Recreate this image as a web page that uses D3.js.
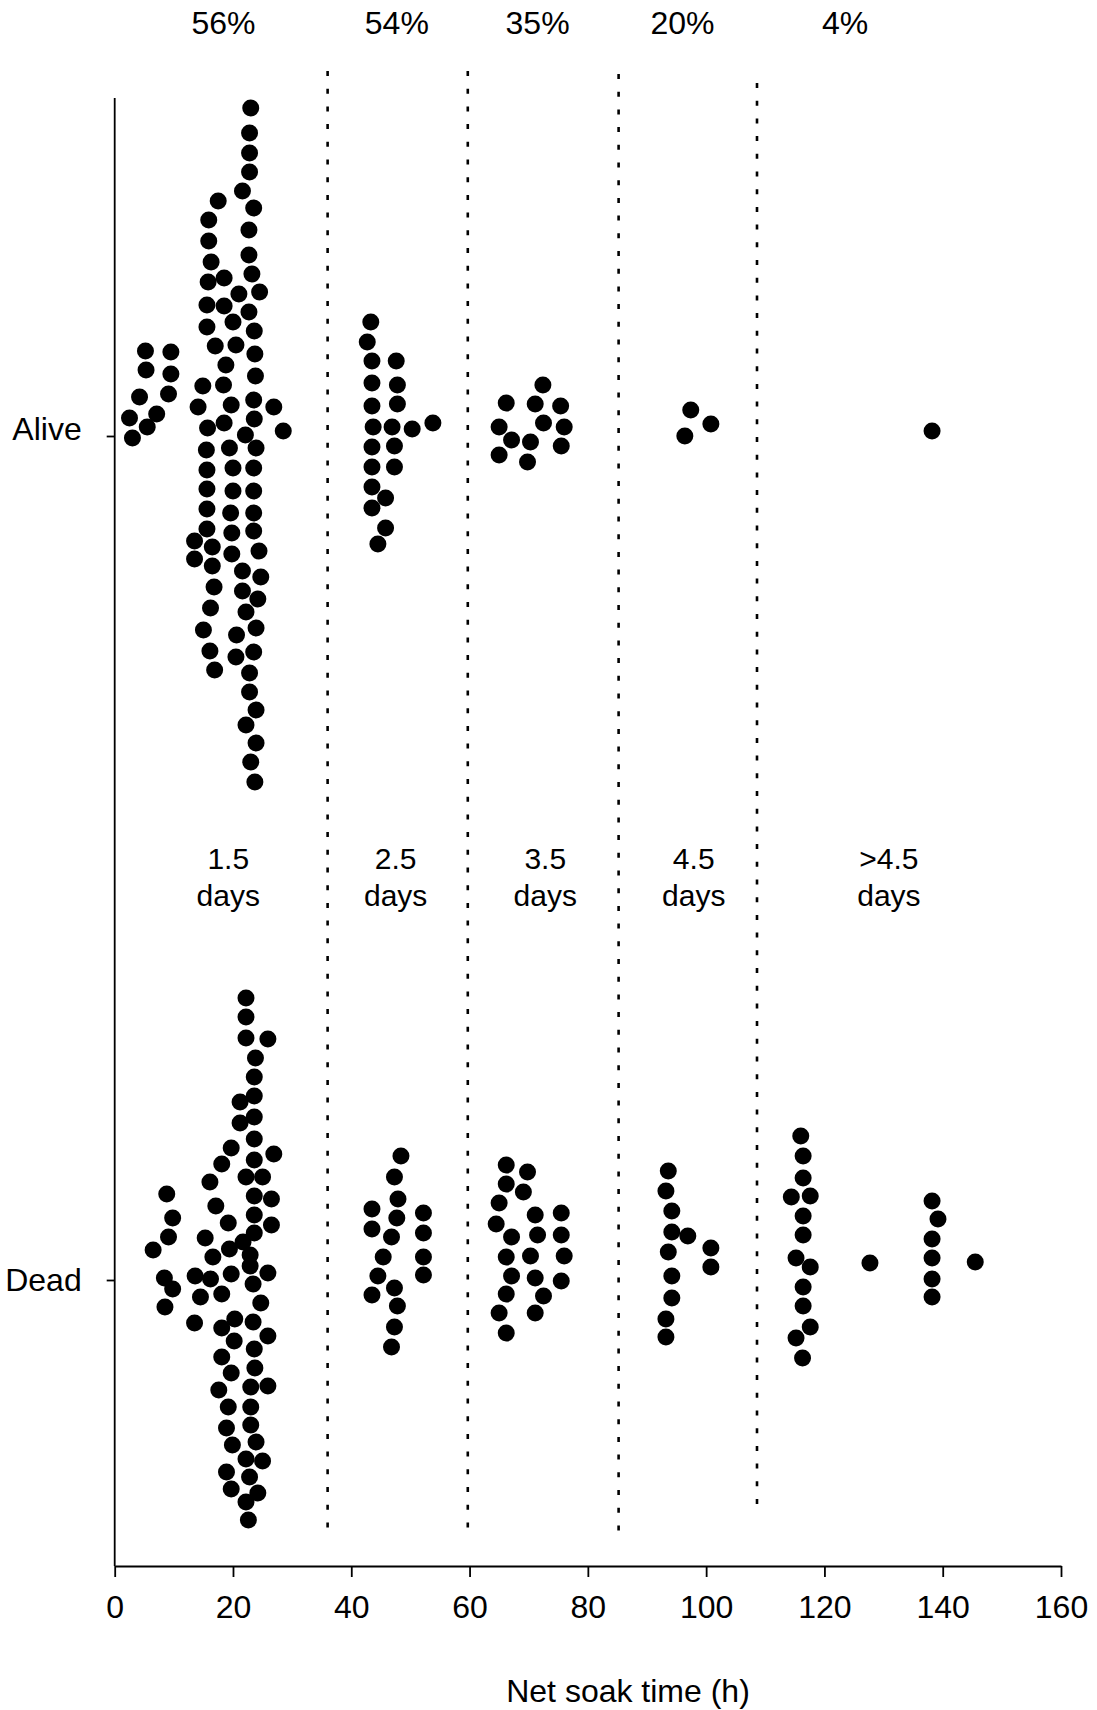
<!DOCTYPE html>
<html>
<head>
<meta charset="utf-8">
<script src="https://cdn.jsdelivr.net/npm/d3@7"></script>
<style>
  body { margin: 0; background: #fff; }
  text { font-family: "Liberation Sans", Arial, sans-serif; fill: #000; }
</style>
</head>
<body>
<script>
// categories on the vertical axis
const categories = ['Alive', 'Dead'];

// each dot: [net soak time (h), vertical spread within its row]
const aliveDots = [
  [23.0, 32.8], [22.8, 30.3], [22.8, 28.3], [22.8, 26.4], [21.6, 24.5], [17.5, 23.5],
  [23.5, 22.8], [15.9, 21.6], [22.7, 20.6], [15.9, 19.5], [22.7, 18.1], [16.3, 17.4],
  [18.5, 15.8], [23.2, 16.2], [15.8, 15.4], [21.0, 14.2], [24.5, 14.4], [15.6, 13.1],
  [18.5, 13.0], [22.7, 12.4], [20.0, 11.4], [15.6, 10.9], [23.6, 10.5], [17.0, 9.0],
  [20.5, 9.1], [5.2, 8.5], [9.5, 8.4], [23.7, 8.2], [18.8, 7.1], [5.3, 6.6],
  [9.5, 6.2], [23.8, 6.0], [14.9, 5.0], [18.4, 5.1], [4.2, 3.9], [9.1, 4.2],
  [14.1, 2.9], [19.7, 3.1], [23.5, 3.6], [26.9, 2.9], [2.5, 1.8], [7.1, 2.2],
  [5.5, 0.9], [15.7, 0.8], [18.5, 1.3], [23.6, 1.7], [22.1, 0.1], [28.5, 0.5],
  [3.0, -0.2], [15.5, -1.4], [19.4, -1.2], [23.9, -1.2], [15.6, -3.4], [20.0, -3.2],
  [23.5, -3.2], [15.6, -5.3], [20.0, -5.5], [23.5, -5.5], [15.6, -7.3], [19.6, -7.7],
  [23.5, -7.7], [15.6, -9.3], [19.8, -9.7], [23.5, -9.5], [13.5, -10.5], [16.5, -11.1],
  [19.8, -11.8], [24.4, -11.5], [13.5, -12.3], [16.5, -13.0], [21.6, -13.5], [24.7, -14.1],
  [16.8, -15.1], [21.6, -15.5], [24.2, -16.3], [16.2, -17.2], [22.2, -17.6], [15.0, -19.4],
  [20.6, -19.9], [23.9, -19.2], [16.1, -21.5], [20.5, -22.1], [23.5, -21.6], [16.9, -23.4],
  [22.8, -23.7], [22.8, -25.6], [23.9, -27.4], [22.2, -28.9], [23.9, -30.7], [23.0, -32.6],
  [23.7, -34.6],
  // 2.5 days
  [43.3, 11.4], [42.7, 9.4], [43.5, 7.5], [47.6, 7.5], [43.5, 5.3], [47.8, 5.1],
  [43.5, 3.0], [47.8, 3.2], [43.7, 0.9], [46.9, 0.9], [50.3, 0.7], [53.8, 1.3],
  [43.5, -1.1], [47.3, -1.0], [43.5, -3.1], [47.3, -3.1], [43.5, -5.1], [45.8, -6.2],
  [43.5, -7.2], [45.8, -9.2], [44.5, -10.8],
  // 3.5 days
  [72.4, 5.1], [66.2, 3.3], [71.1, 3.2], [75.4, 3.0], [65.0, 0.9], [72.5, 1.3],
  [76.0, 0.9], [67.1, -0.4], [70.3, -0.6], [75.5, -1.0], [65.0, -1.9], [69.8, -2.6],
  // 4.5 days and longer
  [97.4, 2.6], [100.8, 1.2], [96.4, 0.0], [138.2, 0.5]
];

const deadDots = [
  [22.2, 28.2], [22.2, 26.3], [22.2, 24.2], [25.9, 24.1], [23.8, 22.2], [23.6, 20.3],
  [21.2, 17.8], [23.6, 18.4], [21.2, 15.7], [23.6, 16.3], [23.6, 14.1], [19.7, 13.2],
  [26.9, 12.6], [18.1, 11.6], [23.6, 12.0], [16.1, 9.8], [22.2, 10.3], [25.0, 10.3],
  [8.8, 8.6], [23.6, 8.4], [26.5, 8.1], [17.1, 7.4], [9.8, 6.2], [23.6, 6.5],
  [19.2, 5.7], [26.5, 5.5], [9.1, 4.3], [15.3, 4.2], [23.6, 4.7], [6.5, 3.0],
  [21.7, 3.8], [19.4, 3.1], [16.6, 2.3], [22.9, 2.5], [8.4, 0.2], [9.8, -0.9],
  [8.5, -2.7], [13.6, 0.4], [16.2, 0.1], [19.7, 0.6], [22.9, 1.4], [25.9, 0.7],
  [23.4, -0.4], [14.5, -1.7], [18.1, -1.4], [24.7, -2.3], [13.5, -4.3], [18.1, -4.8],
  [20.3, -3.9], [23.4, -4.2], [20.2, -6.1], [25.9, -5.6], [23.6, -6.9], [18.1, -7.7],
  [19.7, -9.3], [23.7, -8.8], [17.6, -11.0], [23.0, -10.7], [25.9, -10.6], [19.2, -12.7],
  [23.0, -12.7], [18.9, -14.8], [23.0, -14.5], [19.9, -16.5], [23.9, -16.2], [22.2, -17.9],
  [25.0, -18.1], [18.9, -19.2], [22.8, -19.7], [19.7, -20.9], [24.2, -21.3], [22.2, -22.2],
  [22.6, -24.0],
  // 2.5 days
  [48.4, 12.4], [47.3, 10.3], [47.9, 8.1], [43.5, 7.1], [52.2, 6.7], [47.7, 6.2],
  [43.5, 5.1], [52.2, 4.7], [46.8, 4.3], [45.4, 2.3], [52.2, 2.3], [44.5, 0.4],
  [52.2, 0.5], [47.3, -0.8], [43.5, -1.5], [47.8, -2.6], [47.3, -4.7], [46.8, -6.7],
  // 3.5 days
  [66.2, 11.5], [69.8, 10.8], [66.2, 9.6], [69.1, 8.8], [65.0, 7.7], [71.1, 6.5],
  [75.5, 6.7], [64.5, 5.6], [67.1, 4.3], [71.5, 4.5], [75.5, 4.5], [66.2, 2.3],
  [70.3, 2.4], [76.0, 2.4], [67.1, 0.4], [71.1, 0.2], [75.5, -0.1], [66.2, -1.4],
  [72.5, -1.6], [65.0, -3.3], [71.1, -3.3], [66.2, -5.3],
  // 4.5 days
  [93.6, 10.9], [93.2, 8.9], [94.2, 6.9], [94.2, 4.8], [96.9, 4.4], [93.6, 2.8],
  [100.8, 3.2], [100.8, 1.3], [94.2, 0.4], [94.2, -1.8], [93.2, -3.9], [93.2, -5.7],
  // longer than 4.5 days
  [116.0, 14.4], [116.4, 12.4], [116.4, 10.2], [114.4, 8.3], [117.6, 8.4], [116.4, 6.4],
  [116.4, 4.5], [115.2, 2.2], [117.6, 1.3], [116.4, -0.7], [116.4, -2.6], [117.6, -4.7],
  [115.2, -5.8], [116.3, -7.8], [127.7, 1.7], [138.2, 7.9], [139.2, 6.1], [138.2, 4.1],
  [138.2, 2.2], [138.2, 0.1], [138.2, -1.7], [145.5, 1.8]
];

const xTicks = [0, 20, 40, 60, 80, 100, 120, 140, 160];

// soak-time class boundaries (h)
const boundaries = [36, 59.7, 85.2, 108.6];

// percentage surviving per class
const survival = ['56%', '54%', '35%', '20%', '4%'];
const survivalAt = [18.4, 47.7, 71.5, 96.0, 123.5];

const classNames = ['1.5', '2.5', '3.5', '4.5', '>4.5'];
const classAt = [19.2, 47.5, 72.8, 97.9, 130.9];

const width = 1097, height = 1710;

const svg = d3.select('body').append('svg')
  .attr('width', width)
  .attr('height', height);

const x = d3.scaleLinear().domain([0, 160]).range([114.7, 1061]);
const yCat = d3.scalePoint().domain(categories).range([436, 1280]);
// spread units: 1 unit = 10 px upward
const spread = d3.scaleLinear().domain([0, 10]).range([0, -100]);

const axisY0 = 98, axisY1 = 1566;

// dashed class separators
const dashTop = [71, 71, 74, 83];
const dashBottom = [1530, 1531, 1534, 1516];
svg.append('g')
  .selectAll('line')
  .data(boundaries)
  .enter()
  .append('line')
  .attr('x1', d => x(d))
  .attr('x2', d => x(d))
  .attr('y1', (d, i) => dashTop[i])
  .attr('y2', (d, i) => dashBottom[i])
  .attr('stroke', '#000')
  .attr('stroke-width', 2.6)
  .attr('stroke-dasharray', '5,12.7');

// x axis
const xAxis = svg.append('g')
  .attr('transform', `translate(0,${axisY1})`)
  .call(d3.axisBottom(x).tickValues(xTicks).tickSize(11).tickSizeOuter(0).tickPadding(18));
xAxis.select('.domain').attr('stroke-width', 1.8);
xAxis.selectAll('.tick line').attr('stroke-width', 1.8);
xAxis.selectAll('.tick text')
  .attr('font-size', 32)
  .attr('font-family', '"Liberation Sans", Arial, sans-serif');

// y axis
const yAxis = svg.append('g')
  .attr('transform', `translate(${x(0)},0)`)
  .call(d3.axisLeft(yCat).tickSize(8).tickPadding(25));
yAxis.select('.domain').remove();
yAxis.append('line')
  .attr('y1', axisY0)
  .attr('y2', axisY1)
  .attr('stroke', '#000')
  .attr('stroke-width', 1.8);
yAxis.selectAll('.tick line').attr('stroke-width', 1.8);
yAxis.selectAll('.tick text')
  .attr('font-size', 32)
  .attr('font-family', '"Liberation Sans", Arial, sans-serif')
  .attr('dy', d => d === 'Alive' ? '0.12em' : '0.34em');

// dots
const rows = [aliveDots, deadDots];
rows.forEach((dots, i) => {
  svg.append('g')
    .selectAll('circle')
    .data(dots)
    .enter()
    .append('circle')
    .attr('cx', d => x(d[0]))
    .attr('cy', d => yCat(categories[i]) + spread(d[1]))
    .attr('r', 8.5)
    .attr('fill', '#000');
});

// survival percentages on top
svg.append('g')
  .selectAll('text')
  .data(survival)
  .enter()
  .append('text')
  .attr('x', (d, i) => x(survivalAt[i]))
  .attr('y', 34)
  .attr('text-anchor', 'middle')
  .attr('font-size', 32)
  .text(d => d);

// soak-time class labels
const cls = svg.append('g')
  .selectAll('g')
  .data(classNames)
  .enter()
  .append('g')
  .attr('transform', (d, i) => `translate(${x(classAt[i])},0)`);
cls.append('text')
  .attr('y', 869)
  .attr('text-anchor', 'middle')
  .attr('font-size', 30)
  .text(d => d);
cls.append('text')
  .attr('y', 906)
  .attr('text-anchor', 'middle')
  .attr('font-size', 30)
  .text('days');

// axis title
svg.append('text')
  .attr('x', 628)
  .attr('y', 1702)
  .attr('text-anchor', 'middle')
  .attr('font-size', 32)
  .text('Net soak time (h)');
</script>
</body>
</html>
